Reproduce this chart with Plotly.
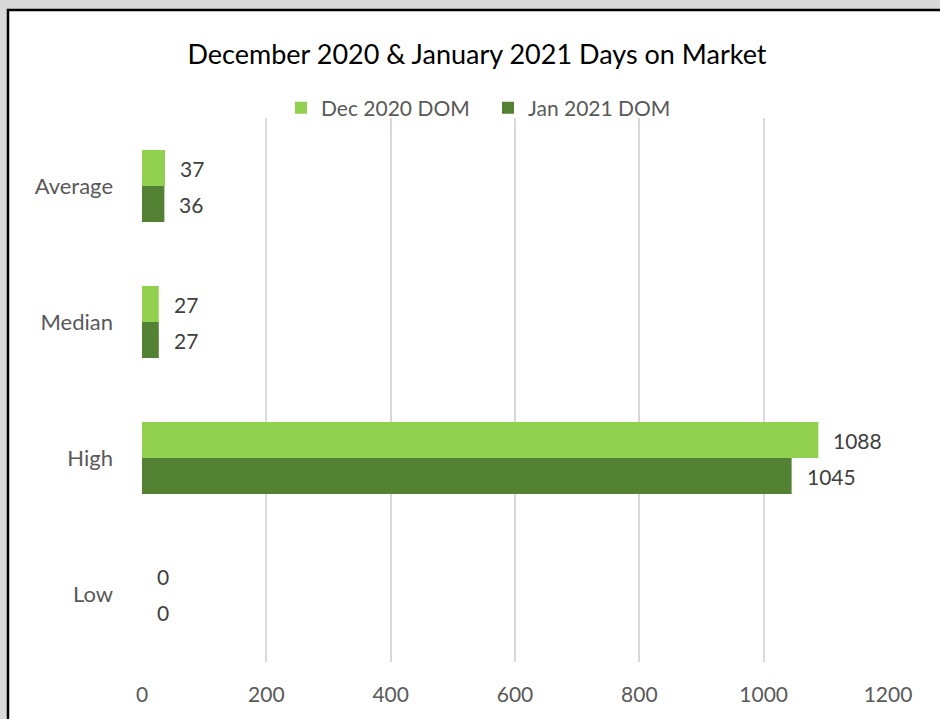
import plotly.graph_objects as go

categories = ["Average", "Median", "High", "Low"]
dec_2020 = [37, 27, 1088, 0]
jan_2021 = [36, 27, 1045, 0]
series_names = ["Dec 2020 DOM", "Jan 2021 DOM"]
x_ticks = [0, 200, 400, 600, 800, 1000, 1200]

FONT = "Lato"
L, R, T, B = 142, 52, 118, 57
W, H = 940, 719
pw, ph = W - L - R, H - T - B

fig = go.Figure()
fig.add_trace(go.Bar(y=categories, x=dec_2020, name=series_names[0], orientation="h",
                     marker=dict(color="#92D050", line=dict(width=0))))
fig.add_trace(go.Bar(y=categories, x=jan_2021, name=series_names[1], orientation="h",
                     marker=dict(color="#548235", line=dict(width=0))))

annotations = []
for vals, shift in ((dec_2020, 18), (jan_2021, -18)):
    for c, v in zip(categories, vals):
        annotations.append(dict(x=v, y=c, xref="x", yref="y", text=str(v), showarrow=False,
                                xanchor="left", yanchor="middle", xshift=13, yshift=shift,
                                font=dict(family=FONT, size=21, color="#404040")))

fig.update_layout(
    width=W, height=H,
    margin=dict(l=L, r=R, t=T, b=B),
    paper_bgcolor="#D9D9D9",
    plot_bgcolor="white",
    barmode="group",
    bargap=0.47,
    bargroupgap=0,
    font=dict(family=FONT, color="#595959"),
    title=dict(text="December 2020 &amp; January 2021 Days on Market",
               x=477 / W, xref="container", xanchor="center",
               y=1 - 55 / H, yref="container", yanchor="middle",
               font=dict(family=FONT, size=27, color="#000000")),
    legend=dict(orientation="h", x=(488 - L) / pw, xanchor="center",
                y=(H - B - 108) / ph, yanchor="middle",
                font=dict(family=FONT, size=21, color="#595959"),
                bgcolor="rgba(0,0,0,0)", itemwidth=30, traceorder="normal",
                entrywidth=162, entrywidthmode="pixels"),
    xaxis=dict(range=[0, 1200], tickvals=x_ticks, showgrid=True, gridcolor="#D9D9D9", gridwidth=2,
               zeroline=False, showline=False, ticks="", ticklabelstandoff=18,
               tickfont=dict(family=FONT, size=21, color="#595959")),
    yaxis=dict(categoryorder="array", categoryarray=categories, autorange="reversed",
               showgrid=False, zeroline=False, showline=False, ticks="", ticklabelstandoff=28,
               tickfont=dict(family=FONT, size=22, color="#595959")),
    annotations=annotations,
    shapes=[dict(type="rect", xref="paper", yref="paper", layer="below",
                 x0=(8 - L) / pw, x1=(W + 20 - L) / pw,
                 y0=(H - B - (H + 20)) / ph, y1=(H - B - 10) / ph,
                 fillcolor="white", line=dict(color="black", width=2.5))],
    showlegend=True,
)
fig.write_html("out.html",
               config={"displayModeBar": False},
               post_script="document.body.style.margin='0';document.body.style.padding='0';"
                           "document.body.style.background='#D9D9D9';")
